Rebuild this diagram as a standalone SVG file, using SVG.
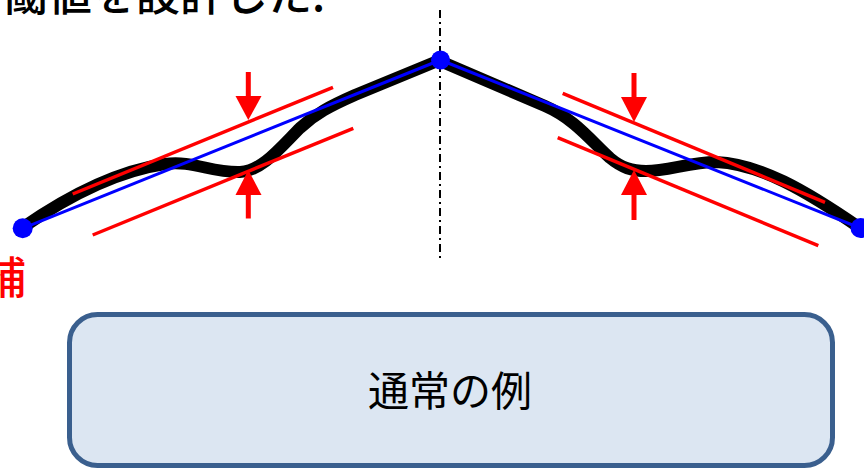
<svg xmlns="http://www.w3.org/2000/svg" width="864" height="469" viewBox="0 0 864 469">
<style>
  .jp { font-family: "Noto Sans CJK JP", "Liberation Sans", sans-serif; }
  .curve { fill: none; stroke: #000; stroke-width: 12; stroke-linejoin: round; }
  .blue { stroke: #0000ff; stroke-width: 3; fill: none; }
  .red { stroke: #ff0000; stroke-width: 3.5; fill: none; }
  .shaft { stroke: #ff0000; stroke-width: 5; fill: none; }
  .head { fill: #ff0000; }
  .dot { fill: #0000ff; }
  .axis { stroke: #000; stroke-width: 2; stroke-dasharray: 8 4 2 4; fill: none; }
</style>
<rect width="864" height="469" fill="#fff"/>

<g id="title">
  <text class="jp" x="4" y="11" font-size="44" font-weight="500" fill="#000">閾値を設計した.</text>
</g>
<g id="side-label">
  <text class="jp" x="26" y="294" font-size="44" font-weight="500" fill="#ff0000" text-anchor="end">補</text>
</g>

<g id="axis">
  <line class="axis" x1="440" y1="10" x2="440" y2="258"/>
</g>

<g id="connectors">
  <!-- left side -->
  <path class="curve" d="M22,228 C55,205 110,172 165,164 C192,160 212,173 240,172 C262,171 280,148 300,128 C315,114 330,106 355,95 L440,60"/>
  <line class="blue" x1="22.7" y1="228.3" x2="440.5" y2="60"/>
  <line class="red" x1="72.7" y1="194" x2="333" y2="87.3"/>
  <line class="red" x1="92.7" y1="235" x2="353.3" y2="128.3"/>
  <!-- right side -->
  <path class="curve" d="M440,61 L545,106 C575,119 592,142 610,158 C622,168 632,171 646,171 C668,171 690,162 716,162 C760,164 805,190 860,228"/>
  <line class="blue" x1="440.5" y1="60" x2="860" y2="228"/>
  <line class="red" x1="562.7" y1="93.3" x2="825" y2="202.3"/>
  <line class="red" x1="557.7" y1="137.7" x2="818.3" y2="245.7"/>
</g>

<g id="arrows-left">
  <line class="shaft" x1="248.3" y1="72" x2="248.3" y2="98"/>
  <polygon class="head" points="235.5,96 261.5,96 248.3,120"/>
  <line class="shaft" x1="248.3" y1="218.5" x2="248.3" y2="193"/>
  <polygon class="head" points="235.5,195 261.5,195 248.3,170"/>
</g>
<g id="arrows-right">
  <line class="shaft" x1="634" y1="73" x2="634" y2="99"/>
  <polygon class="head" points="621,97 647,97 634,122"/>
  <line class="shaft" x1="634" y1="220" x2="634" y2="193"/>
  <polygon class="head" points="621,195 647,195 634,170"/>
</g>

<g id="points">
  <circle class="dot" cx="22.7" cy="228.3" r="10"/>
  <circle class="dot" cx="440.5" cy="60" r="9.5"/>
  <circle class="dot" cx="860.5" cy="228" r="10"/>
</g>

<g id="caption-box">
  <rect x="69.5" y="314.5" width="763" height="151" rx="28" ry="28" fill="#dce6f2" stroke="#3a5f8e" stroke-width="5"/>
  <text class="jp" x="450" y="406" font-size="41" fill="#000" text-anchor="middle">通常の例</text>
</g>
</svg>
